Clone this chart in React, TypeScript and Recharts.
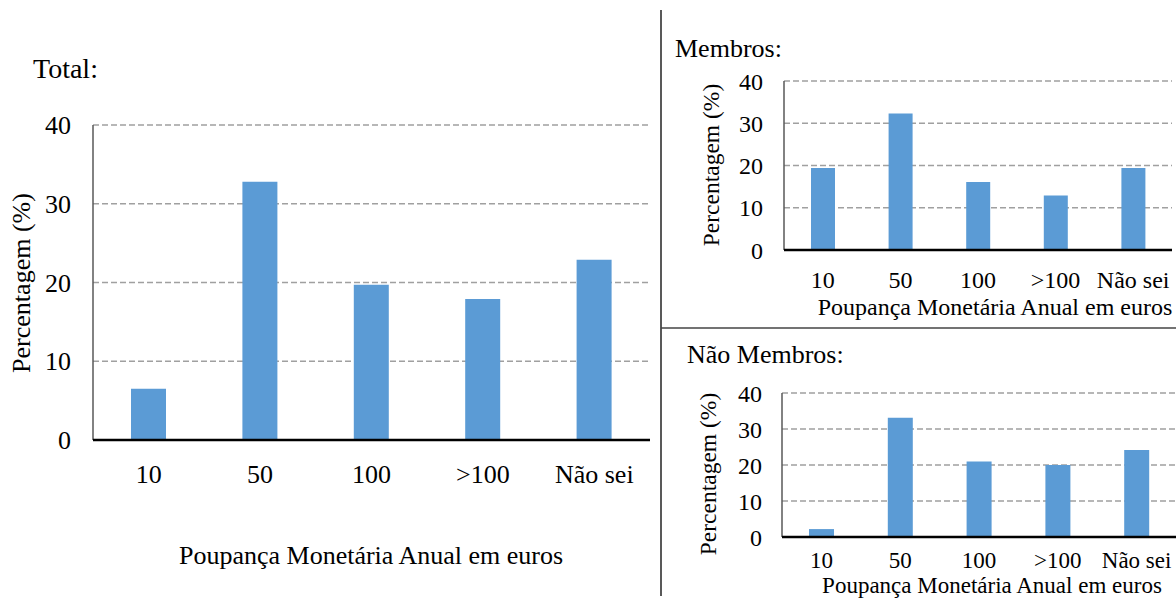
import { BarChart, Bar, XAxis, YAxis, CartesianGrid } from "recharts";

const categories = ["10", "50", "100", ">100", "Não sei"];
const totalValues = [6.5, 32.8, 19.7, 17.9, 22.9];
const memberValues = [19.4, 32.3, 16.1, 12.9, 19.4];
const nonMemberValues = [2.2, 33.1, 21.0, 20.0, 24.2];
const yTicks = [0, 10, 20, 30, 40];

const FONT = '"Liberation Serif", "Times New Roman", serif';
const BAR = "#5b9bd5";

type PanelProps = {
  values: number[];
  width: number;
  height: number;
  margin: { top: number; right: number; left: number; bottom: number };
  yAxisWidth: number;
  barSize: number;
  fontSize: number;
  xFontSize?: number;
  yTickMargin: number;
  xTickMargin: number;
};

function Panel(p: PanelProps) {
  const data = categories.map((c, i) => ({ name: c, value: p.values[i] }));
  const tick = { fontSize: p.fontSize, fill: "#000", fontFamily: FONT };
  const xTick = { ...tick, fontSize: p.xFontSize ?? p.fontSize };
  return (
    <BarChart width={p.width} height={p.height} data={data} margin={p.margin}>
      <CartesianGrid vertical={false} stroke="#a0a0a0" strokeWidth={1.3} strokeDasharray="6 3" />
      <YAxis
        type="number"
        domain={[0, 40]}
        ticks={yTicks}
        width={p.yAxisWidth}
        tick={tick}
        tickLine={false}
        tickMargin={p.yTickMargin}
        axisLine={{ stroke: "#595959", strokeWidth: 1.5 }}
        interval={0}
      />
      <XAxis
        dataKey="name"
        height={40}
        tick={xTick}
        tickLine={false}
        tickMargin={p.xTickMargin}
        axisLine={{ stroke: "#000", strokeWidth: 2.5 }}
        interval={0}
      />
      <Bar dataKey="value" fill={BAR} barSize={p.barSize} isAnimationActive={false} />
    </BarChart>
  );
}

export default function App() {
  return (
    <div style={{ position: "absolute", left: 0, top: 0, width: 1176, height: 599, background: "#fff", overflow: "hidden" }}>
      <div style={{ position: "absolute", left: 0, top: 0 }}>
        <Panel
          values={totalValues}
          width={660}
          height={599}
          margin={{ top: 125, right: 10, left: 0, bottom: 119 }}
          yAxisWidth={93}
          barSize={35}
          fontSize={26}
          yTickMargin={16}
          xTickMargin={19}
        />
      </div>
      <div style={{ position: "absolute", left: 660, top: 0 }}>
        <Panel
          values={memberValues}
          width={516}
          height={328}
          margin={{ top: 81, right: 4, left: 0, bottom: 38 }}
          yAxisWidth={124}
          barSize={24}
          fontSize={24}
          yTickMargin={15}
          xTickMargin={15}
        />
      </div>
      <div style={{ position: "absolute", left: 660, top: 328 }}>
        <Panel
          values={nonMemberValues}
          width={516}
          height={271}
          margin={{ top: 65, right: 0, left: 0, bottom: 22 }}
          yAxisWidth={122}
          barSize={25}
          fontSize={24}
          xFontSize={23}
          yTickMargin={14}
          xTickMargin={9}
        />
      </div>
      <svg width={1176} height={599} style={{ position: "absolute", left: 0, top: 0, pointerEvents: "none" }} fontFamily={FONT} fill="#000">
        <line x1={661} y1={10} x2={661} y2={596} stroke="#222" strokeWidth={1.5} />
        <line x1={661} y1={328} x2={1176} y2={328} stroke="#444" strokeWidth={1.5} />
        <text x={33} y={78} fontSize={28}>Total:</text>
        <text x={371} y={564} fontSize={26} textAnchor="middle">Poupança Monetária Anual em euros</text>
        <text x={30} y={283} fontSize={26} textAnchor="middle" transform="rotate(-90 30 283)">Percentagem (%)</text>
        <text x={675} y={57} fontSize={26}>Membros:</text>
        <text x={995} y={315} fontSize={24} textAnchor="middle">Poupança Monetária Anual em euros</text>
        <text x={719} y={165} fontSize={23.5} textAnchor="middle" transform="rotate(-90 719 165)">Percentagem (%)</text>
        <text x={687} y={363} fontSize={26}>Não Membros:</text>
        <text x={992} y={593} fontSize={23} textAnchor="middle">Poupança Monetária Anual em euros</text>
        <text x={716} y={474} fontSize={23.5} textAnchor="middle" transform="rotate(-90 716 474)">Percentagem (%)</text>
      </svg>
    </div>
  );
}
